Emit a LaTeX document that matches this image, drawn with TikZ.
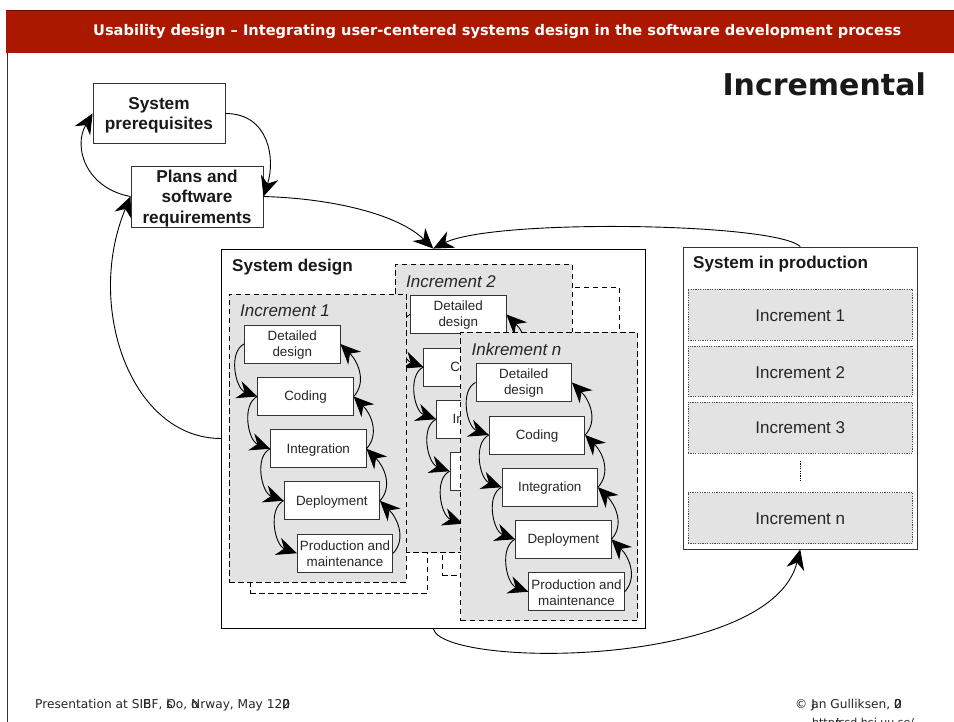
\documentclass[tikz,border=0pt]{standalone}
\usepackage{fontspec}
\setmainfont{Liberation Sans}
\newfontfamily\verd{DejaVu Sans}
\usetikzlibrary{arrows.meta}
\definecolor{hdr}{HTML}{AA1800}
\definecolor{hdrtop}{HTML}{6E0A00}
\definecolor{panel}{HTML}{E3E3E3}
\definecolor{edge}{HTML}{333333}
\newcommand{\dn}[1]{\raisebox{-1.7pt}[\height][\depth]{#1}}
\newcommand{\dnn}[1]{\raisebox{-0.9pt}[\height][\depth]{#1}}
\tikzset{
  x=1pt,y=-1pt,
  arr/.style={draw=black,line width=0.9pt,-{Stealth[length=20pt,width=18pt,inset=6.5pt]}},
  bigbox/.style={draw=edge,line width=0.9pt,fill=white,align=center,inner sep=0pt,font=\fontsize{17.2}{20.5}\selectfont\bfseries,text=black!90},
  inbox/.style={draw=edge,line width=0.9pt,fill=white,align=center,inner sep=0pt,minimum width=95.5pt,minimum height=38pt,font=\fontsize{13.4}{16}\selectfont,text=black!85},
  frame/.style={draw=black,line width=0.9pt,dash pattern=on 5.5pt off 3.5pt,fill=panel,inner sep=0pt,minimum width=177pt,minimum height=288pt},
  backframe/.style={draw=black,line width=0.9pt,dash pattern=on 5.5pt off 3.5pt,fill=white,inner sep=0pt,minimum width=177pt,minimum height=288pt},
  inctitle/.style={anchor=base west,inner sep=0pt,font=\fontsize{17}{18}\selectfont\itshape,text=black!85},
  sect/.style={anchor=base west,inner sep=0pt,font=\fontsize{17.1}{18}\selectfont\bfseries,text=black!90},
  prodbox/.style={draw=black!70,line width=0.6pt,dash pattern=on 1.2pt off 1.2pt,fill=panel,inner sep=0pt,minimum width=224.5pt,font=\fontsize{17}{18}\selectfont,text=black!85},
  foot/.style={anchor=base west,inner sep=0pt,font=\verd\fontsize{12.2}{13}\selectfont,text=black!85}
}
\newcommand{\incr}[4]{%
  \begin{scope}[shift={(#1,#2)}]
    \node[frame] (#3f) at (317.5,438) {};
    \node[inctitle] (#3t) at (240,317) {#4};
    \node[inbox] (#3a) at (292.25,344) {\dnn{Detailed}\\\dnn{design}};
    \node[inbox] (#3b) at (305.5,396.5) {\dnn{Coding}};
    \node[inbox] (#3c) at (318.25,448.75) {\dnn{Integration}};
    \node[inbox] (#3d) at (331.75,500.75) {\dnn{Deployment}};
    \node[inbox] (#3e) at (345,553.25) {\dnn{Production and}\\\dnn{maintenance}};
    \foreach \p/\q in {a/b,b/c,c/d,d/e}{
      \draw[arr] (#3\p.west) .. controls +(-16,8) and +(-22,-8) .. (#3\q.west);
      \draw[arr] (#3\q.east) .. controls +(13,-14) and +(18,18) .. (#3\p.east);
    }
  \end{scope}}
\begin{document}
\begin{tikzpicture}
\clip (0,0) rectangle (954,722);
\fill[white] (0,0) rectangle (954,722);
% slide
\draw[edge,line width=1pt] (7,10) -- (7,722);
\fill[hdr] (6,10.5) rectangle (954,53);
\draw[hdrtop,line width=1pt] (6,10.5) -- (954,10.5);
\node[anchor=base west,inner sep=0pt,text=white,font=\verd\bfseries\fontsize{14.6}{16}\selectfont] (head) at (93,35.7) {Usability design – Integrating user-centered systems design in the software development process};
\node[anchor=base east,inner sep=0pt,font=\verd\bfseries\fontsize{30}{32}\selectfont,text=black!90] (ttl) at (926,96) {Incremental};
% top boxes
\node[bigbox,minimum width=132pt,minimum height=60pt] (pre) at (159,113.5) {\dn{System}\\\dn{prerequisites}};
\node[bigbox,minimum width=132pt,minimum height=61pt] (plans) at (197,196.5) {\dn{Plans and}\\\dn{software}\\\dn{requirements}};
% design box
\node[draw=black,line width=0.9pt,fill=white,minimum width=423.5pt,minimum height=379pt,inner sep=0pt] (sd) at (433.25,438.5) {};
\node[sect] (sdt) at (232,272) {System design};
\node[backframe] (ba) at (338.5,449) {};
\node[backframe] (bb) at (530.5,431.5) {};
\incr{166}{-29.5}{two}{Increment 2}
\incr{0}{0}{one}{Increment 1}
\incr{231.5}{38.5}{enn}{Inkrement n}
% production box
\node[draw=edge,line width=0.9pt,fill=white,minimum width=234.5pt,minimum height=302pt,inner sep=0pt] (sip) at (800.25,398) {};
\node[sect] (sipt) at (693,269) {System in production};
\node[prodbox,minimum height=51.5pt] (p1) at (800.25,314.75) {\dnn{Increment 1}};
\node[prodbox,minimum height=50.5pt] (p2) at (800.25,371.25) {\dnn{Increment 2}};
\node[prodbox,minimum height=51pt] (p3) at (800.25,427.5) {Increment 3};
\node[prodbox,minimum height=51pt] (pn) at (800.25,518) {\dnn{Increment n}};
\coordinate (da) at (800,461);
\coordinate (db) at (800,482);
\draw[black,line width=1pt,dash pattern=on 1.2pt off 1.2pt] (da) -- (db);
% outer connectors
\draw[arr] (pre.east) .. controls +(44,0) and +(12,-37) .. (plans.east);
\draw[arr] (plans.west) .. controls +(-44,-8) and +(-20,34) .. (pre.west);
\draw[arr] (sd.west) .. controls +(-90,0) and +(-46,110) .. (plans.west);
\draw[arr] (plans.east) .. controls +(70,2) and +(-35,-34) .. (sd.north);
\draw[arr] (sip.north) .. controls +(-25,-24) and +(60,-30) .. (sd.north);
\draw[arr] (sd.south) .. controls +(8,40) and +(-30,120) .. (sip.south);
% footer
\node[foot] (fl) at (35,708.5) {Presentation at SI\rlap{E}BF, \rlap{s}\rlap{l}Oo, \rlap{o}Nrway, May 12\rlap{,}\rlap{2}\rlap{0}0};
\node[foot] (fr) at (795,708.5) {© \rlap{J}an Gulliksen, \rlap{2}\rlap{0}0};
\node[foot,font=\verd\fontsize{11}{13}\selectfont] (fu) at (812,726) {http\rlap{:}\rlap{/}\rlap{a}/csd.hci.uu.se/};
\end{tikzpicture}
\end{document}
